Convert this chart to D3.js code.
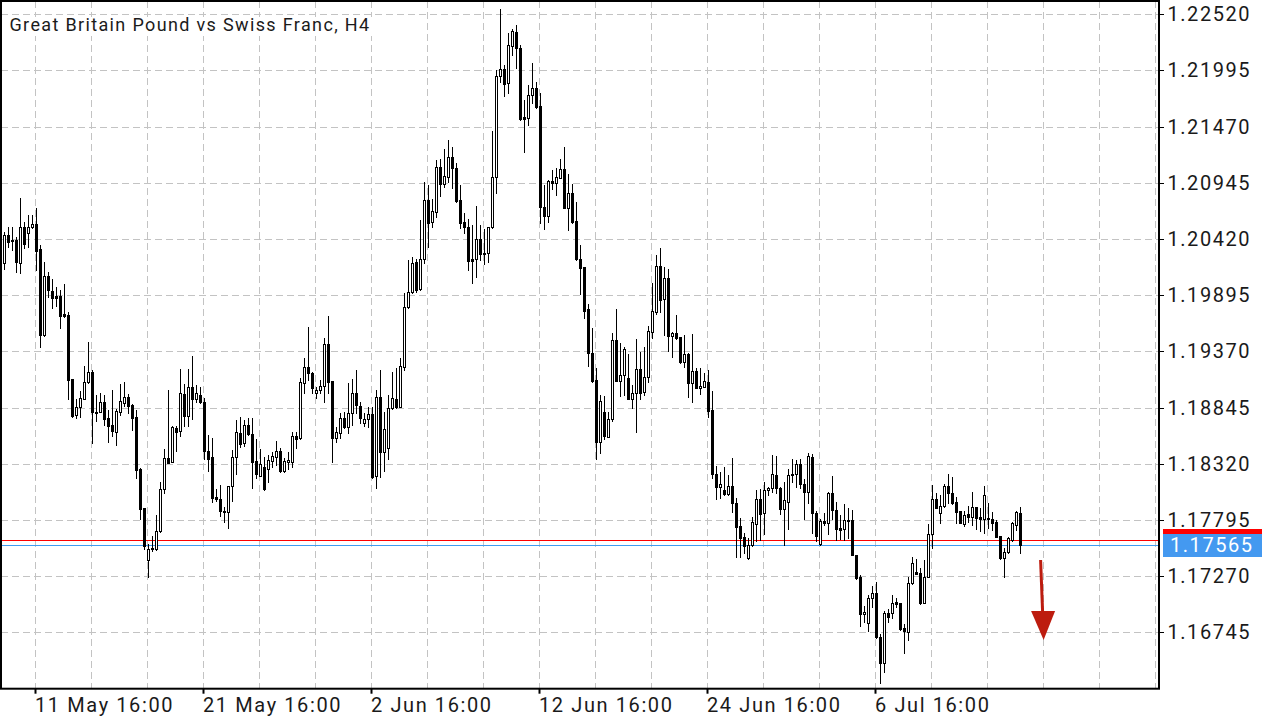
<!DOCTYPE html>
<html>
<head>
<meta charset="utf-8">
<title>GBPCHF H4</title>
<script src="https://d3js.org/d3.v7.min.js"></script>
<style>
  html, body { margin: 0; padding: 0; background: #fff; }
  svg { display: block; }
  text { font-family: Roboto, "Noto Sans", sans-serif; }
</style>
</head>
<body>
<script>
// H4 bars, GBPCHF
var opens = [
  1.20198, 1.20456, 1.20406, 1.20406, 1.20198, 1.20528, 1.20472, 1.20528, 1.20559, 1.20325,
  1.19522, 1.20070, 1.19933, 1.19886, 1.19886, 1.19715, 1.19709, 1.19108, 1.18772, 1.18846,
  1.18927, 1.19083, 1.19173, 1.18806, 1.18806, 1.18893, 1.18743, 1.18678, 1.18619, 1.18800,
  1.18890, 1.18943, 1.18865, 1.18754, 1.18271, 1.17904, 1.17418, 1.17521, 1.17521, 1.17692,
  1.18081, 1.18371, 1.18333, 1.18651, 1.18623, 1.18969, 1.18766, 1.19034, 1.18928, 1.18962,
  1.18897, 1.18442, 1.18380, 1.18006, 1.17988, 1.17882, 1.17866, 1.18112, 1.18380, 1.18604,
  1.18514, 1.18682, 1.18595, 1.18346, 1.18209, 1.18293, 1.18268, 1.18349, 1.18386, 1.18439,
  1.18255, 1.18339, 1.18339, 1.18579, 1.18557, 1.19071, 1.19227, 1.19168, 1.18978, 1.19006,
  1.19046, 1.19436, 1.19093, 1.18557, 1.18610, 1.18744, 1.18660, 1.18791, 1.18978, 1.18859,
  1.18698, 1.18735, 1.18782, 1.18208, 1.18946, 1.18426, 1.18463, 1.18837, 1.18921, 1.18852,
  1.19226, 1.19780, 1.19921, 1.20201, 1.19949, 1.20229, 1.20783, 1.20581, 1.20674, 1.21095,
  1.20929, 1.21001, 1.21182, 1.21079, 1.20783, 1.20574, 1.20528, 1.20229, 1.20229, 1.20416,
  1.20285, 1.20291, 1.20528, 1.20995, 1.21945, 1.22004, 1.21880, 1.22222, 1.22350, 1.22200,
  1.21556, 1.21547, 1.21765, 1.21827, 1.21662, 1.20715, 1.20637, 1.20961, 1.20939, 1.20992,
  1.21070, 1.20706, 1.20852, 1.20587, 1.20232, 1.20155, 1.19762, 1.19357, 1.19102, 1.18526,
  1.18800, 1.18573, 1.18735, 1.19476, 1.19096, 1.19149, 1.19124, 1.18922, 1.18978, 1.19205,
  1.18993, 1.19133, 1.19547, 1.19740, 1.20167, 1.19862, 1.20052, 1.19516, 1.19538, 1.19501,
  1.19273, 1.19342, 1.19077, 1.19186, 1.19024, 1.19040, 1.19087, 1.18822, 1.18221, 1.18106,
  1.18074, 1.18037, 1.18112, 1.17957, 1.17739, 1.17633, 1.17437, 1.17561, 1.17754, 1.17988,
  1.17857, 1.18075, 1.18090, 1.18215, 1.18090, 1.17894, 1.17960, 1.18224, 1.18224, 1.18315,
  1.18128, 1.18059, 1.18380, 1.17857, 1.17567, 1.17785, 1.17763, 1.18050, 1.17888, 1.17717,
  1.17707, 1.17785, 1.17795, 1.17468, 1.17265, 1.16913, 1.16829, 1.17063, 1.17109, 1.16698,
  1.16455, 1.16929, 1.16929, 1.17025, 1.17016, 1.16782, 1.16751, 1.17203, 1.17306, 1.17296,
  1.17022, 1.17265, 1.17661, 1.17991, 1.17857, 1.17928, 1.18112, 1.18044, 1.17960, 1.17879,
  1.17754, 1.17847, 1.17819, 1.17913, 1.17819, 1.17801, 1.17801, 1.17801, 1.17779, 1.17645,
  1.17436, 1.17492, 1.17608, 1.17748, 1.17863
];
var highs = [
  1.20487, 1.20528, 1.20528, 1.20441, 1.20799, 1.20581, 1.20643, 1.20643, 1.20705, 1.20363,
  1.20207, 1.20111, 1.20042, 1.19974, 1.19942, 1.19998, 1.19740, 1.19108, 1.18924, 1.18999,
  1.19232, 1.19453, 1.19195, 1.18961, 1.18977, 1.18961, 1.18821, 1.19008, 1.18834, 1.19064,
  1.19083, 1.18968, 1.18877, 1.18822, 1.18277, 1.17910, 1.17570, 1.17645, 1.17841, 1.18146,
  1.18458, 1.19009, 1.18676, 1.18673, 1.19202, 1.19065, 1.19205, 1.19327, 1.19056, 1.19040,
  1.18937, 1.18589, 1.18557, 1.18081, 1.18122, 1.17919, 1.18115, 1.18449, 1.18729, 1.18754,
  1.18729, 1.18744, 1.18744, 1.18548, 1.18458, 1.18386, 1.18402, 1.18433, 1.18533, 1.18470,
  1.18377, 1.18427, 1.18620, 1.18620, 1.19118, 1.19305, 1.19601, 1.19180, 1.19034, 1.19102,
  1.19492, 1.19700, 1.19093, 1.18666, 1.18791, 1.18807, 1.19071, 1.19112, 1.19196, 1.18900,
  1.18791, 1.18853, 1.18850, 1.19008, 1.19195, 1.18806, 1.18961, 1.19179, 1.19211, 1.19304,
  1.19911, 1.20223, 1.20254, 1.20229, 1.20596, 1.20948, 1.20923, 1.20789, 1.21157, 1.21163,
  1.21260, 1.21344, 1.21275, 1.21126, 1.20923, 1.20659, 1.20603, 1.20550, 1.20727, 1.20550,
  1.20509, 1.20528, 1.21431, 1.21998, 1.22568, 1.22045, 1.22341, 1.22381, 1.22418, 1.22232,
  1.21718, 1.21858, 1.22060, 1.21889, 1.21780, 1.20924, 1.20970, 1.21064, 1.21079, 1.21164,
  1.21282, 1.21026, 1.20933, 1.20762, 1.20363, 1.20161, 1.19812, 1.19585, 1.19211, 1.18962,
  1.18953, 1.18806, 1.19538, 1.19762, 1.19451, 1.19407, 1.19345, 1.19055, 1.19485, 1.19367,
  1.19414, 1.19607, 1.20005, 1.20270, 1.20338, 1.20155, 1.20136, 1.19554, 1.19709, 1.19501,
  1.19523, 1.19351, 1.19529, 1.19211, 1.19211, 1.19164, 1.19196, 1.18999, 1.18299, 1.18246,
  1.18292, 1.18215, 1.18370, 1.17997, 1.17810, 1.17670, 1.17623, 1.17820, 1.18075, 1.18081,
  1.18153, 1.18106, 1.18402, 1.18393, 1.18106, 1.18153, 1.18268, 1.18361, 1.18355, 1.18368,
  1.18175, 1.18417, 1.18408, 1.17882, 1.17801, 1.17863, 1.18059, 1.18206, 1.17966, 1.17841,
  1.17941, 1.17904, 1.17890, 1.17468, 1.17281, 1.16994, 1.17094, 1.17178, 1.17218, 1.16729,
  1.16947, 1.16960, 1.17094, 1.17063, 1.17022, 1.16823, 1.17265, 1.17452, 1.17427, 1.17343,
  1.17421, 1.17754, 1.18121, 1.18044, 1.18028, 1.18131, 1.18221, 1.18199, 1.18012, 1.17882,
  1.17882, 1.17928, 1.18053, 1.17919, 1.17903, 1.18112, 1.17950, 1.17872, 1.17794, 1.17645,
  1.17530, 1.17639, 1.17779, 1.17879, 1.17913
];
var lows = [
  1.20139, 1.20347, 1.20316, 1.20114, 1.20104, 1.20332, 1.20347, 1.20518, 1.20129, 1.19413,
  1.19510, 1.19880, 1.19777, 1.19793, 1.19584, 1.19693, 1.18924, 1.18753, 1.18750, 1.18759,
  1.18921, 1.19077, 1.18510, 1.18722, 1.18800, 1.18681, 1.18526, 1.18578, 1.18494, 1.18775,
  1.18859, 1.18790, 1.18634, 1.18184, 1.17801, 1.17524, 1.17259, 1.17505, 1.17514, 1.17686,
  1.18044, 1.18324, 1.18333, 1.18442, 1.18579, 1.18676, 1.18676, 1.18735, 1.18900, 1.18884,
  1.18364, 1.18255, 1.17966, 1.17975, 1.17832, 1.17779, 1.17717, 1.17975, 1.18224, 1.18480,
  1.18486, 1.18589, 1.18090, 1.18184, 1.18206, 1.18075, 1.18153, 1.18293, 1.18308, 1.18246,
  1.18246, 1.18268, 1.18293, 1.18464, 1.18548, 1.18978, 1.19102, 1.18978, 1.18937, 1.18978,
  1.18900, 1.18978, 1.18333, 1.18526, 1.18557, 1.18651, 1.18604, 1.18682, 1.18791, 1.18698,
  1.18676, 1.18666, 1.18190, 1.18090, 1.18192, 1.18255, 1.18360, 1.18831, 1.18837, 1.18846,
  1.19195, 1.19771, 1.19911, 1.19927, 1.19942, 1.20198, 1.20347, 1.20534, 1.20621, 1.20821,
  1.20908, 1.20954, 1.20892, 1.20768, 1.20518, 1.20478, 1.20129, 1.20005, 1.20061, 1.20223,
  1.20185, 1.20207, 1.20518, 1.20852, 1.21889, 1.21758, 1.21780, 1.22138, 1.22014, 1.21531,
  1.21235, 1.21484, 1.21687, 1.21646, 1.20566, 1.20510, 1.20581, 1.20883, 1.20830, 1.20986,
  1.20706, 1.20503, 1.20566, 1.20223, 1.19905, 1.19678, 1.19236, 1.19086, 1.18364, 1.18417,
  1.18548, 1.18573, 1.18722, 1.19096, 1.18953, 1.18962, 1.18922, 1.18837, 1.18619, 1.18922,
  1.18962, 1.19087, 1.19491, 1.19719, 1.19740, 1.19523, 1.19373, 1.19314, 1.19485, 1.19264,
  1.19227, 1.18946, 1.18900, 1.19024, 1.18971, 1.19034, 1.18760, 1.18183, 1.17987, 1.17997,
  1.18028, 1.18028, 1.17872, 1.17446, 1.17446, 1.17483, 1.17430, 1.17552, 1.17598, 1.17608,
  1.17661, 1.18028, 1.18059, 1.18044, 1.17851, 1.17561, 1.17707, 1.18153, 1.18106, 1.18097,
  1.17804, 1.17950, 1.17670, 1.17602, 1.17561, 1.17748, 1.17664, 1.17804, 1.17608, 1.17614,
  1.17608, 1.17623, 1.17468, 1.17243, 1.16807, 1.16845, 1.16761, 1.16985, 1.16689, 1.16275,
  1.16371, 1.16838, 1.16882, 1.16985, 1.16767, 1.16549, 1.16673, 1.17197, 1.17287, 1.17010,
  1.17016, 1.17259, 1.17536, 1.17903, 1.17763, 1.17919, 1.17950, 1.17944, 1.17763, 1.17763,
  1.17742, 1.17773, 1.17748, 1.17710, 1.17692, 1.17676, 1.17717, 1.17701, 1.17633, 1.17430,
  1.17265, 1.17483, 1.17601, 1.17701, 1.17483
];
var closes = [
  1.20456, 1.20394, 1.20403, 1.20207, 1.20528, 1.20372, 1.20534, 1.20559, 1.20310, 1.19522,
  1.20070, 1.19939, 1.19871, 1.19871, 1.19703, 1.19703, 1.19102, 1.18765, 1.18846, 1.18930,
  1.19083, 1.19173, 1.18806, 1.18790, 1.18893, 1.18740, 1.18675, 1.18628, 1.18812, 1.18905,
  1.18943, 1.18862, 1.18750, 1.18262, 1.17897, 1.17555, 1.17521, 1.17530, 1.17692, 1.18081,
  1.18371, 1.18330, 1.18666, 1.18620, 1.18978, 1.18769, 1.19034, 1.18928, 1.18978, 1.18900,
  1.18442, 1.18364, 1.18003, 1.17988, 1.17882, 1.17866, 1.18112, 1.18380, 1.18614, 1.18508,
  1.18682, 1.18595, 1.18340, 1.18221, 1.18315, 1.18081, 1.18355, 1.18392, 1.18439, 1.18255,
  1.18346, 1.18352, 1.18579, 1.18551, 1.19081, 1.19227, 1.19165, 1.19031, 1.19009, 1.19046,
  1.19436, 1.19087, 1.18557, 1.18613, 1.18744, 1.18660, 1.18791, 1.18978, 1.18869, 1.18744,
  1.18735, 1.18782, 1.18199, 1.18946, 1.18426, 1.18641, 1.18837, 1.18930, 1.18852, 1.19232,
  1.19780, 1.19921, 1.20191, 1.19942, 1.20229, 1.20783, 1.20571, 1.20683, 1.21095, 1.20929,
  1.21007, 1.21182, 1.21079, 1.20774, 1.20571, 1.20528, 1.20216, 1.20216, 1.20416, 1.20276,
  1.20276, 1.20528, 1.20995, 1.21945, 1.22004, 1.21864, 1.22232, 1.22362, 1.22200, 1.21540,
  1.21540, 1.21765, 1.21827, 1.21656, 1.20715, 1.20637, 1.20961, 1.20939, 1.20995, 1.21070,
  1.20706, 1.20852, 1.20581, 1.20229, 1.20145, 1.19750, 1.19351, 1.19096, 1.18526, 1.18906,
  1.18582, 1.18735, 1.19476, 1.19096, 1.19149, 1.19392, 1.18928, 1.18978, 1.19205, 1.18984,
  1.19133, 1.19560, 1.19747, 1.20167, 1.19849, 1.20052, 1.19516, 1.19538, 1.19498, 1.19273,
  1.19342, 1.19077, 1.19186, 1.19030, 1.19046, 1.19093, 1.18816, 1.18221, 1.18106, 1.18127,
  1.18037, 1.18112, 1.17950, 1.17732, 1.17630, 1.17555, 1.17561, 1.17773, 1.17988, 1.17851,
  1.18075, 1.18090, 1.18221, 1.18090, 1.17894, 1.17981, 1.18215, 1.18215, 1.18315, 1.18128,
  1.18059, 1.18393, 1.17857, 1.17648, 1.17785, 1.17763, 1.18050, 1.17888, 1.17711, 1.17701,
  1.17795, 1.17795, 1.17468, 1.17250, 1.16916, 1.16932, 1.17063, 1.17109, 1.16698, 1.16455,
  1.16923, 1.16885, 1.17016, 1.17010, 1.16776, 1.16761, 1.17203, 1.17390, 1.17290, 1.17016,
  1.17265, 1.17661, 1.17991, 1.17910, 1.17928, 1.18112, 1.18050, 1.17956, 1.17872, 1.17770,
  1.17841, 1.17819, 1.17913, 1.17816, 1.17801, 1.18028, 1.17810, 1.17770, 1.17639, 1.17436,
  1.17492, 1.17623, 1.17763, 1.17866, 1.17565
];

var timeLabels = ["11 May 16:00", "21 May 16:00", "2 Jun 16:00", "12 Jun 16:00", "24 Jun 16:00", "6 Jul 16:00"];
var timeLabelBars = [8, 50, 92, 134, 176, 218];
var priceTicks = [1.22520, 1.21995, 1.21470, 1.20945, 1.20420, 1.19895, 1.19370, 1.18845, 1.18320, 1.17795, 1.17270, 1.16745];
var chartTitle = "Great Britain Pound vs Swiss Franc, H4";
var askPrice = 1.17607;
var sellArrow = { bar: 259.9, price: 1.16673 };

var width = 1280;
var height = 720;
var frame = { left: 1, top: 1, right: 1159, bottom: 688.7 };

var xScale = d3.scaleLinear()
    .domain([0, 289])
    .range([4, 1160]);

var yScale = d3.scaleLinear()
    .domain([priceTicks[priceTicks.length - 1], priceTicks[0]])
    .range([632.3, 14.1]);

var svg = d3.select("body").append("svg")
    .attr("width", width)
    .attr("height", height);

svg.append("rect")
    .attr("width", width)
    .attr("height", height)
    .attr("fill", "#fff");

// dashed grid
var grid = svg.append("g")
    .attr("stroke", "#c3c3c3")
    .attr("stroke-width", 1)
    .attr("stroke-dasharray", "7,4")
    .attr("shape-rendering", "crispEdges");

grid.selectAll("line.h")
    .data(priceTicks)
    .join("line")
    .attr("class", "h")
    .attr("x1", frame.left)
    .attr("x2", frame.right)
    .attr("y1", function(d) { return Math.round(yScale(d)) + 0.5; })
    .attr("y2", function(d) { return Math.round(yScale(d)) + 0.5; });

grid.selectAll("line.v")
    .data(d3.range(8, 290, 14))
    .join("line")
    .attr("class", "v")
    .attr("y1", frame.top)
    .attr("y2", frame.bottom)
    .attr("x1", function(d) { return Math.round(xScale(d)) - 0.5; })
    .attr("x2", function(d) { return Math.round(xScale(d)) - 0.5; });

// title, on a white patch so the grid does not run through it
var title = svg.append("text")
    .attr("x", 9.5)
    .attr("y", 31)
    .attr("font-size", 18)
    .attr("letter-spacing", "1.35px")
    .attr("fill", "#1b1b1b")
    .text(chartTitle);
var tb = title.node().getBBox();
svg.insert("rect", "text")
    .attr("x", tb.x - 2)
    .attr("y", 17)
    .attr("width", tb.width + 4)
    .attr("height", 19)
    .attr("fill", "#fff");

// bid / ask lines
var bid = closes[closes.length - 1];
svg.append("line")
    .attr("x1", frame.left).attr("x2", frame.right)
    .attr("y1", Math.round(yScale(askPrice)) + 0.5)
    .attr("y2", Math.round(yScale(askPrice)) + 0.5)
    .attr("stroke", "#ff0000")
    .attr("shape-rendering", "crispEdges");
svg.append("line")
    .attr("x1", frame.left).attr("x2", frame.right)
    .attr("y1", Math.round(yScale(bid)) + 0.5)
    .attr("y2", Math.round(yScale(bid)) + 0.5)
    .attr("stroke", "#3f9cf2")
    .attr("shape-rendering", "crispEdges");

// candles
var bars = svg.append("g")
    .attr("shape-rendering", "crispEdges")
    .selectAll("g")
    .data(d3.range(opens.length))
    .join("g");

bars.append("line")
    .attr("stroke", "#000")
    .attr("x1", function(i) { return Math.round(xScale(i)) + 0.5; })
    .attr("x2", function(i) { return Math.round(xScale(i)) + 0.5; })
    .attr("y1", function(i) { return Math.round(yScale(highs[i])); })
    .attr("y2", function(i) { return Math.round(yScale(lows[i])) + 1; });

bars.append("rect")
    .each(function(i) {
        var cx = Math.round(xScale(i));
        var top = Math.round(yScale(Math.max(opens[i], closes[i])));
        var bot = Math.round(yScale(Math.min(opens[i], closes[i])));
        var el = d3.select(this);
        if (closes[i] > opens[i]) {
            el.attr("x", cx - 0.5)
                .attr("y", top + 0.5)
                .attr("width", 2)
                .attr("height", Math.max(bot - top, 1))
                .attr("fill", "#fff")
                .attr("stroke", "#000");
        } else {
            el.attr("x", cx - 1)
                .attr("y", top)
                .attr("width", 3)
                .attr("height", Math.max(bot - top + 1, 1))
                .attr("fill", "#000");
        }
    });

// sell arrow object
var ax = xScale(sellArrow.bar);
var ay = yScale(sellArrow.price);
svg.append("path")
    .attr("fill", "#bd1c0f")
    .attr("d", "M" + (ax - 4.5) + "," + (ay - 80) + "L" + (ax - 1.5) + "," + (ay - 80) +
        "L" + (ax + 0.5) + "," + (ay - 28) + "L" + (ax - 2.5) + "," + (ay - 28) + "Z");
svg.append("path")
    .attr("fill", "#bd1c0f")
    .attr("d", "M" + (ax - 12.5) + "," + (ay - 29) + "L" + (ax + 11.5) + "," + (ay - 29) +
        "L" + ax + "," + ay + "Z");

// frame
svg.append("rect")
    .attr("x", frame.left)
    .attr("y", frame.top)
    .attr("width", frame.right - frame.left)
    .attr("height", frame.bottom - frame.top)
    .attr("fill", "none")
    .attr("stroke", "#000")
    .attr("stroke-width", 2);

// price axis
var pAxis = svg.append("g");
pAxis.selectAll("line")
    .data(priceTicks)
    .join("line")
    .attr("x1", frame.right)
    .attr("x2", frame.right + 5)
    .attr("y1", function(d) { return Math.round(yScale(d)) + 0.5; })
    .attr("y2", function(d) { return Math.round(yScale(d)) + 0.5; })
    .attr("stroke", "#000")
    .attr("shape-rendering", "crispEdges");
pAxis.selectAll("text")
    .data(priceTicks)
    .join("text")
    .attr("x", 1167.5)
    .attr("y", function(d) { return yScale(d) + 7; })
    .attr("font-size", 20)
    .attr("letter-spacing", "1.55px")
    .attr("fill", "#1a1a1a")
    .text(function(d) { return d.toFixed(5); });

// ask tag peeks out above the bid tag
svg.append("rect")
    .attr("x", 1163).attr("y", Math.round(yScale(askPrice)) - 11)
    .attr("width", 99).attr("height", 23)
    .attr("fill", "#ff0000");
svg.append("rect")
    .attr("x", 1163).attr("y", Math.round(yScale(bid)) - 11)
    .attr("width", 99).attr("height", 23)
    .attr("fill", "#4499f0");
svg.append("text")
    .attr("x", 1170)
    .attr("y", yScale(bid) + 7.5)
    .attr("font-size", 20)
    .attr("letter-spacing", "1.55px")
    .attr("fill", "#fff")
    .text(bid.toFixed(5));

// time axis
var tAxis = svg.append("g");
tAxis.selectAll("line")
    .data(timeLabelBars)
    .join("line")
    .attr("x1", function(d) { return Math.round(xScale(d)) - 0.5; })
    .attr("x2", function(d) { return Math.round(xScale(d)) - 0.5; })
    .attr("y1", frame.bottom)
    .attr("y2", frame.bottom + 5)
    .attr("stroke", "#000")
    .attr("stroke-width", 2);
tAxis.selectAll("text")
    .data(timeLabelBars)
    .join("text")
    .attr("x", function(d) { return xScale(d) - 1; })
    .attr("y", 712)
    .attr("font-size", 20)
    .attr("letter-spacing", "1.6px")
    .attr("fill", "#1a1a1a")
    .text(function(d, i) { return timeLabels[i]; });
</script>
</body>
</html>
